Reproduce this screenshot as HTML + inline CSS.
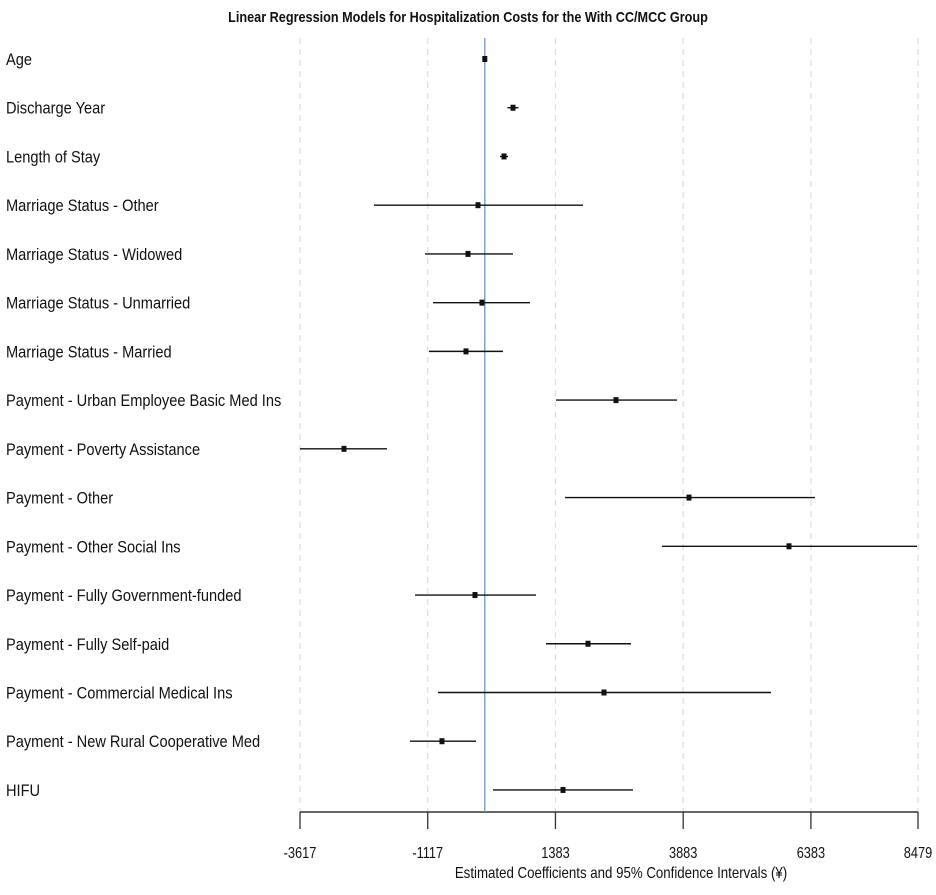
<!DOCTYPE html>
<html><head><meta charset="utf-8"><style>
body{margin:0;background:#fff}
svg text{font-family:"Liberation Sans",sans-serif;fill:#111}
</style></head><body>
<svg id="chart" width="936" height="890" xmlns="http://www.w3.org/2000/svg">
<text transform="translate(468,22) scale(0.845,1)" text-anchor="middle" font-size="15" font-weight="bold">Linear Regression Models for Hospitalization Costs for the With CC/MCC Group</text>
<g id="grid"></g><g id="axis"></g><g id="rows"></g>
<text transform="translate(621,878) scale(0.83,1)" text-anchor="middle" font-size="16">Estimated Coefficients and 95% Confidence Intervals (¥)</text>
</svg>
<script>
const labels=["Age","Discharge Year","Length of Stay","Marriage Status - Other","Marriage Status - Widowed","Marriage Status - Unmarried","Marriage Status - Married","Payment - Urban Employee Basic Med Ins","Payment - Poverty Assistance","Payment - Other","Payment - Other Social Ins","Payment - Fully Government-funded","Payment - Fully Self-paid","Payment - Commercial Medical Ins","Payment - New Rural Cooperative Med","HIFU"];
const estimates=[0,552,376,-133,-329,-55,-368,2568,-2756,3997,5954,-192,2020,2333,-838,1531];
const lowers=[-20,444,298,-2169,-1170,-1014,-1092,1394,-3617,1570,3469,-1366,1198,-916,-1464,161];
const uppers=[20,659,454,1922,552,885,356,3762,-1914,6463,8460,1002,2862,5602,-172,2901];
const ticks=[-3617,-1117,1383,3883,6383,8479];
const NS="http://www.w3.org/2000/svg";
const x0=300,x1=918,vmin=-3617,vmax=8479;
const xs=v=>x0+(v-vmin)/(vmax-vmin)*(x1-x0);
const ys=i=>59+i*48.73;
function mk(tag,attrs,parent,txt){const e=document.createElementNS(NS,tag);for(const k in attrs)e.setAttribute(k,attrs[k]);if(txt!==undefined)e.textContent=txt;parent.appendChild(e);return e;}
const grid=document.getElementById('grid'),axis=document.getElementById('axis'),rows=document.getElementById('rows');
ticks.forEach((t,i)=>{
 const g=mk('line',{x1:xs(t),x2:xs(t),y1:38,y2:812,stroke:'#ddd','stroke-dasharray':'6,5','stroke-width':1.2},grid);
 
 
 const tk=mk('line',{x1:xs(t),x2:xs(t),y1:812,y2:829,stroke:'#333','stroke-width':1.3},axis);
 
 
 const tl=mk('text',{transform:'translate('+xs(t)+',858) scale(0.8,1)','text-anchor':'middle','font-size':16},axis,String(t));
 
 
});
const al=mk('line',{x1:xs(vmin),x2:xs(vmax),y1:812,y2:812,stroke:'#333','stroke-width':1.5},axis);


const zl=mk('line',{x1:xs(0),x2:xs(0),y1:38,y2:812,stroke:'#5b9bd5','stroke-width':1.3},axis);


labels.forEach((l,i)=>{
 const y=ys(i);
 const t=mk('text',{transform:'translate(6,'+(y+6)+') scale(0.86,1)','font-size':17},rows,l);
 
 
 const ci=mk('line',{x1:xs(lowers[i]),x2:xs(uppers[i]),y1:y,y2:y,stroke:'#111','stroke-width':1.4},rows);
 
 
 const p=mk('rect',{x:xs(estimates[i])-2.5,y:y-3,width:5,height:6,fill:'#111'},rows);
 
 
});
</script>
</body></html>
